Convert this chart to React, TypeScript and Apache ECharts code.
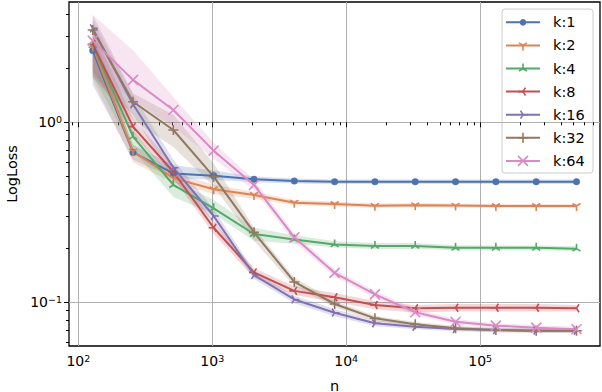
import React, { useEffect, useRef } from 'react';
import * as echarts from 'echarts';

// ---------- data ----------
const nValues = [128, 256, 512, 1024, 2048, 4096, 8192, 16384, 32768, 65536, 131072, 262144, 524288];
const seriesNames = ['k:1', 'k:2', 'k:4', 'k:8', 'k:16', 'k:32', 'k:64'];

const k1Mean = [2.5, 0.68, 0.52, 0.505, 0.483, 0.472, 0.468, 0.468, 0.468, 0.468, 0.468, 0.468, 0.468];
const k1Low = [1.61, 0.62, 0.49, 0.48, 0.465, 0.457, 0.455, 0.455, 0.455, 0.455, 0.455, 0.455, 0.455];
const k1High = [2.86, 0.75, 0.58, 0.54, 0.5, 0.488, 0.482, 0.481, 0.481, 0.481, 0.481, 0.481, 0.481];

const k2Mean = [2.63, 0.69, 0.49, 0.425, 0.395, 0.358, 0.352, 0.344, 0.347, 0.345, 0.343, 0.343, 0.343];
const k2Low = [1.72, 0.6, 0.46, 0.4, 0.378, 0.346, 0.341, 0.335, 0.338, 0.336, 0.334, 0.334, 0.334];
const k2High = [3.05, 0.75, 0.53, 0.45, 0.412, 0.371, 0.363, 0.354, 0.357, 0.354, 0.352, 0.352, 0.352];

const k4Mean = [2.68, 0.832, 0.449, 0.333, 0.24, 0.224, 0.21, 0.206, 0.206, 0.201, 0.201, 0.201, 0.199];
const k4Low = [1.83, 0.7, 0.385, 0.31, 0.22, 0.212, 0.202, 0.198, 0.198, 0.195, 0.195, 0.195, 0.193];
const k4High = [3.05, 0.905, 0.48, 0.37, 0.26, 0.236, 0.219, 0.214, 0.214, 0.208, 0.207, 0.207, 0.205];

const k8Mean = [2.71, 0.946, 0.53, 0.26, 0.147, 0.116, 0.107, 0.0969, 0.0929, 0.0935, 0.0935, 0.0935, 0.0929];
const k8Low = [1.95, 0.85, 0.49, 0.24, 0.137, 0.11, 0.101, 0.0915, 0.088, 0.089, 0.089, 0.089, 0.089];
const k8High = [3.25, 1.05, 0.58, 0.28, 0.155, 0.123, 0.113, 0.102, 0.097, 0.098, 0.098, 0.098, 0.097];

const k16Mean = [3.32, 1.26, 0.56, 0.302, 0.142, 0.104, 0.0878, 0.0767, 0.0734, 0.0713, 0.0703, 0.0698, 0.0697];
const k16Low = [1.83, 1.1, 0.48, 0.28, 0.135, 0.099, 0.084, 0.0738, 0.071, 0.0692, 0.0684, 0.068, 0.0679];
const k16High = [3.7, 1.42, 0.62, 0.33, 0.15, 0.109, 0.092, 0.0797, 0.076, 0.0735, 0.0723, 0.0717, 0.0716];

const k32Mean = [3.25, 1.3, 0.906, 0.499, 0.245, 0.13, 0.0981, 0.0817, 0.0757, 0.0719, 0.0703, 0.0698, 0.0697];
const k32Low = [1.76, 1.03, 0.73, 0.44, 0.22, 0.123, 0.094, 0.079, 0.0735, 0.07, 0.0685, 0.068, 0.0679];
const k32High = [3.94, 1.45, 1.1, 0.59, 0.26, 0.137, 0.102, 0.0845, 0.078, 0.074, 0.0722, 0.0716, 0.0715];

const k64Mean = [2.84, 1.72, 1.17, 0.696, 0.449, 0.23, 0.146, 0.111, 0.0883, 0.0782, 0.0744, 0.0725, 0.071];
const k64Low = [1.95, 1.33, 0.94, 0.63, 0.42, 0.217, 0.139, 0.106, 0.085, 0.0755, 0.072, 0.0702, 0.0688];
const k64High = [3.94, 2.52, 1.38, 0.77, 0.48, 0.243, 0.153, 0.116, 0.092, 0.081, 0.0768, 0.0748, 0.0733];

const xMajorTicks = [100, 1000, 10000, 100000];
const xMinorTicks = [
  90,
  200, 300, 400, 500, 600, 700, 800, 900,
  2000, 3000, 4000, 5000, 6000, 7000, 8000, 9000,
  20000, 30000, 40000, 50000, 60000, 70000, 80000, 90000,
  200000, 300000, 400000, 500000, 600000, 700000,
];
const yMajorTicks = [0.1, 1];
const yMinorTicks = [0.06, 0.07, 0.08, 0.09, 0.2, 0.3, 0.4, 0.5, 0.6, 0.7, 0.8, 0.9, 2, 3, 4];

// ---------- styling ----------
const colors = ['#4C72B0', '#DD8452', '#55A868', '#C44E52', '#8172B3', '#937860', '#DA8BC3'];
const FONT = 'DejaVu Sans';
const X_MIN = 1.93;
const X_MAX = 5.895;
const Y_MIN = -1.2414;
const Y_MAX = 0.6676;

const means = [k1Mean, k2Mean, k4Mean, k8Mean, k16Mean, k32Mean, k64Mean];
const lows = [k1Low, k2Low, k4Low, k8Low, k16Low, k32Low, k64Low];
const highs = [k1High, k2High, k4High, k8High, k16High, k32High, k64High];

// marker strokes (unit coordinates, y down), matplotlib '1','2','3','4','+','x'
const markerSegs: number[][][] = [
  [],
  [[0, 0, 0, 1], [0, 0, 0.8, -0.5], [0, 0, -0.8, -0.5]],
  [[0, 0, 0, -1], [0, 0, 0.8, 0.5], [0, 0, -0.8, 0.5]],
  [[0, 0, -1, 0], [0, 0, 0.5, -0.8], [0, 0, 0.5, 0.8]],
  [[0, 0, 1, 0], [0, 0, -0.5, -0.8], [0, 0, -0.5, 0.8]],
  [[-1, 0, 1, 0], [0, -1, 0, 1]],
  [[-1, -1, 1, 1], [-1, 1, 1, -1]],
];
const segPath = (segs: number[][]) =>
  'M-1 -1 M1 1 ' + segs.map((s) => `M${s[0]} ${s[1]} L${s[2]} ${s[3]}`).join(' ');
const symbols = [
  'path://M-1 -1 M1 1 M0.65 0 A0.65 0.65 0 1 1 -0.65 0 A0.65 0.65 0 1 1 0.65 0 Z',
  ...markerSegs.slice(1).map((s) => 'path://' + segPath(s)),
];
const SYMBOL_SIZE = 10;

const lg = (v: number) => Math.log10(v);

const supFormatter = (v: number) => {
  const e = Math.round(v);
  const s = e < 0 ? '\u2212' + Math.abs(e) : String(e);
  return '{b|10}{s|' + s + '}';
};
const rich = {
  b: { fontSize: 14, fontFamily: FONT, color: '#000', lineHeight: 16 },
  s: { fontSize: 9.5, fontFamily: FONT, color: '#000', lineHeight: 8, verticalAlign: 'top' },
};

// legend box geometry
const LEG_X = 502;
const LEG_Y = 9;
const LEG_W = 91;
const LEG_H = 164;
const LEG_ROW0 = 22.3;
const LEG_ROW_STEP = 23.1;

function buildLegend() {
  const children: any[] = [
    {
      type: 'rect',
      shape: { x: LEG_X, y: LEG_Y, width: LEG_W, height: LEG_H, r: 3 },
      style: { fill: 'rgba(255,255,255,0.8)', stroke: '#cccccc', lineWidth: 1 },
    },
  ];
  seriesNames.forEach((name, si) => {
    const cy = LEG_ROW0 + LEG_ROW_STEP * si;
    const cx = 523;
    const c = colors[si];
    const items: any[] = [
      { type: 'line', shape: { x1: -17, y1: 0, x2: 17, y2: 0 }, style: { stroke: c, lineWidth: 2 } },
    ];
    if (si === 0) {
      items.push({ type: 'circle', shape: { cx: 0, cy: 0, r: 3.3 }, style: { fill: c } });
    } else {
      markerSegs[si].forEach((s) => {
        items.push({
          type: 'line',
          shape: { x1: s[0] * 5, y1: s[1] * 5, x2: s[2] * 5, y2: s[3] * 5 },
          style: { stroke: c, lineWidth: 1.6 },
        });
      });
    }
    items.push({
      type: 'text',
      x: 30,
      y: 0,
      style: { text: name, fontSize: 14.5, fontFamily: FONT, fill: '#000', verticalAlign: 'middle', align: 'left' },
    });
    children.push({ type: 'group', x: cx, y: cy, children: items });
  });
  return { type: 'group', z: 100, silent: true, children };
}

export default function App() {
  const ref = useRef<HTMLDivElement>(null);

  useEffect(() => {
    if (!ref.current) return;
    const chart = echarts.init(ref.current, null, { renderer: 'svg' });

    const bandSeries = seriesNames.map((_, si) => ({
      type: 'custom',
      silent: true,
      z: 1,
      xAxisIndex: 0,
      yAxisIndex: 0,
      encode: { x: 0, y: [1, 2] },
      data: nValues.map((n, i) => [lg(n), lg(lows[si][i]), lg(highs[si][i])]),
      renderItem: (params: any, api: any) => {
        if (params.dataIndex !== 0) return null;
        const upper = nValues.map((n, i) => api.coord([lg(n), lg(highs[si][i])]));
        const lower = nValues.map((n, i) => api.coord([lg(n), lg(lows[si][i])])).reverse();
        return {
          type: 'polygon',
          shape: { points: upper.concat(lower) },
          style: { fill: colors[si], opacity: 0.22, stroke: 'none' },
        };
      },
    }));

    const lineSeries = seriesNames.map((name, si) => ({
      type: 'line',
      name,
      z: 2,
      xAxisIndex: 0,
      yAxisIndex: 0,
      data: nValues.map((n, i) => [lg(n), lg(means[si][i])]),
      symbol: symbols[si],
      symbolSize: SYMBOL_SIZE,
      showSymbol: true,
      lineStyle: { color: colors[si], width: 2 },
      itemStyle: { color: colors[si], borderColor: colors[si], borderWidth: si === 0 ? 0.5 : 1.6 },
      emphasis: { disabled: true },
    }));

    const tickLine = { color: '#000', width: 1 };

    chart.setOption({
      animation: false,
      backgroundColor: '#fff',
      textStyle: { fontFamily: FONT },
      grid: {
        left: 69, right: 2, top: 2, bottom: 46,
        show: true, borderColor: '#000', borderWidth: 1.3, backgroundColor: 'transparent',
        outerBoundsMode: 'none',
      },
      graphic: [buildLegend()],
      xAxis: [
        {
          type: 'value', min: X_MIN, max: X_MAX,
          name: 'n', nameLocation: 'middle', nameGap: 32,
          nameTextStyle: { fontSize: 14.5, fontFamily: FONT, color: '#000' },
          axisLine: { show: false },
          axisTick: { show: true, length: 5, customValues: xMajorTicks.map(lg), lineStyle: tickLine },
          axisLabel: { customValues: xMajorTicks.map(lg), formatter: supFormatter, rich, margin: 7 },
          splitLine: { show: true, lineStyle: { color: '#b0b0b0', width: 1 } },
        },
        {
          type: 'value', min: X_MIN, max: X_MAX, position: 'bottom',
          axisLine: { show: false },
          axisTick: { show: true, length: 3, customValues: xMinorTicks.map(lg), lineStyle: tickLine },
          axisLabel: { show: false },
          splitLine: { show: false },
        },
      ],
      yAxis: [
        {
          type: 'value', min: Y_MIN, max: Y_MAX,
          name: 'LogLoss', nameLocation: 'middle', nameGap: 31,
          nameTextStyle: { fontSize: 14.5, fontFamily: FONT, color: '#000' },
          axisLine: { show: false },
          axisTick: { show: true, length: 5, customValues: yMajorTicks.map(lg), lineStyle: tickLine },
          axisLabel: { customValues: yMajorTicks.map(lg), formatter: supFormatter, rich, margin: 7 },
          splitLine: { show: true, lineStyle: { color: '#b0b0b0', width: 1 } },
        },
        {
          type: 'value', min: Y_MIN, max: Y_MAX, position: 'left',
          axisLine: { show: false },
          axisTick: { show: true, length: 3, customValues: yMinorTicks.map(lg), lineStyle: tickLine },
          axisLabel: { show: false },
          splitLine: { show: false },
        },
      ],
      series: [...bandSeries, ...lineSeries],
    });

    return () => chart.dispose();
  }, []);

  return (
    <div
      ref={ref}
      style={{ position: 'fixed', left: 0, top: 0, width: 602, height: 392 }}
    />
  );
}
